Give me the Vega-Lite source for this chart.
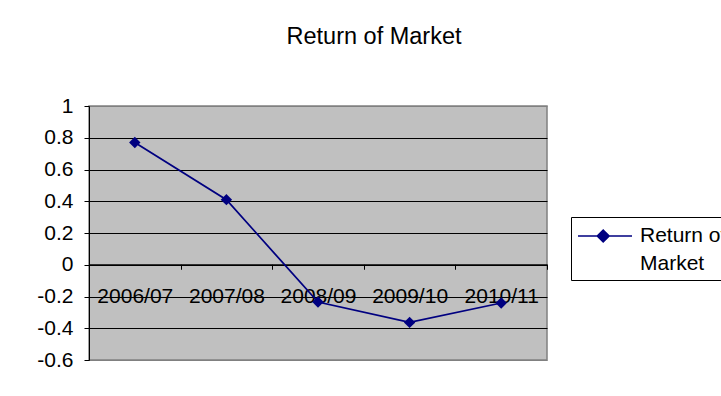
{
  "$schema": "https://vega.github.io/schema/vega-lite/v6.json",
  "autosize": {"type": "none"},
  "padding": {"left": 89, "top": 106, "right": 174, "bottom": 36},
  "width": 458,
  "height": 254,
  "background": "white",
  "title": {
    "text": "Return of Market",
    "font": "Liberation Sans",
    "fontSize": 23.5,
    "fontWeight": "normal",
    "color": "black",
    "anchor": "middle",
    "frame": "group",
    "baseline": "alphabetic",
    "offset": 28,
    "dx": 56
  },
  "data": {
    "values": [
      {"year": "2006/07", "series": "Return of Market", "ret": 0.77},
      {"year": "2007/08", "series": "Return of Market", "ret": 0.41},
      {"year": "2008/09", "series": "Return of Market", "ret": -0.235},
      {"year": "2009/10", "series": "Return of Market", "ret": -0.363},
      {"year": "2010/11", "series": "Return of Market", "ret": -0.241}
    ]
  },
  "mark": {
    "type": "line",
    "strokeWidth": 1.75,
    "point": {"shape": "diamond", "size": 130, "filled": true, "opacity": 1}
  },
  "encoding": {
    "x": {
      "field": "year",
      "type": "ordinal",
      "sort": null,
      "scale": {"type": "band", "paddingInner": 0, "paddingOuter": 0},
      "axis": {
        "title": null,
        "orient": "bottom",
        "offset": -95.75,
        "tickBand": "extent",
        "domainColor": "black",
        "domainWidth": 1,
        "tickColor": "black",
        "tickSize": 5,
        "tickWidth": 1,
        "labelAngle": 0,
        "labelFont": "Liberation Sans",
        "labelFontSize": 21,
        "labelColor": "black",
        "labelPadding": 16,
        "labelOverlap": false,
        "grid": false
      }
    },
    "y": {
      "field": "ret",
      "type": "quantitative",
      "scale": {"domain": [-0.6, 1], "nice": false, "zero": false},
      "axis": {
        "title": null,
        "values": [-0.6, -0.4, -0.2, 0, 0.2, 0.4, 0.6, 0.8, 1],
        "labelExpr": "toString(round(datum.value * 10) / 10)",
        "domainColor": "black",
        "domainWidth": 1,
        "tickColor": "black",
        "tickSize": 5,
        "labelFont": "Liberation Sans",
        "labelFontSize": 21,
        "labelColor": "black",
        "labelPadding": 11,
        "grid": true,
        "gridColor": {
          "condition": {"test": "datum.value == 1 || datum.value == -0.6", "value": "#808080"},
          "value": "black"
        },
        "gridWidth": 1,
        "gridOpacity": 1
      }
    },
    "color": {
      "field": "series",
      "type": "nominal",
      "scale": {"domain": ["Return of Market"], "range": ["#000080"]},
      "legend": {
        "title": null,
        "orient": "none",
        "legendX": 482,
        "legendY": 111,
        "strokeColor": "black",
        "fillColor": "white",
        "padding": 6,
        "symbolType": "M-1,0H3.5M0.6,0L1.1,-0.5L1.6,0L1.1,0.5Z",
        "symbolSize": 576,
        "symbolStrokeWidth": 1.5,
        "symbolStrokeColor": "#000080",
        "symbolFillColor": "#000080",
        "labelFont": "Liberation Sans",
        "labelFontSize": 21,
        "labelColor": "black",
        "labelOffset": 37,
        "labelLimit": 300,
        "labelExpr": "['Return of', 'Market']",
        "encode": {
          "symbols": {"update": {"fill": {"value": "#000080"}, "stroke": {"value": "#000080"}}},
          "labels": {"update": {"lineHeight": {"value": 28}}}
        }
      }
    }
  },
  "config": {
    "view": {"fill": "#C0C0C0", "stroke": "#808080", "strokeWidth": 1.5}
  }
}
